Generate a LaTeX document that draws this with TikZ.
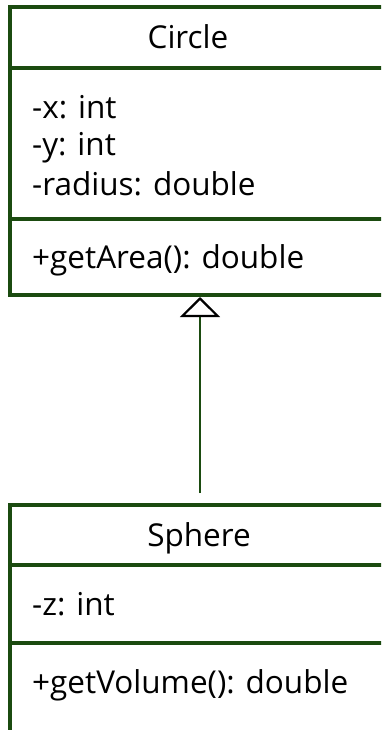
\documentclass[tikz,border=0pt]{standalone}
\usepackage{fontspec}
\setmainfont{Open Sans}
\usetikzlibrary{arrows.meta}
\definecolor{umlgreen}{RGB}{27,75,16}

\begin{document}
\begin{tikzpicture}[x=1pt, y=-1pt,
  classbox/.style={draw=umlgreen, line width=4pt, minimum width=380pt, minimum height=287.5pt, inner sep=0},
  sepline/.style={umlgreen, line width=4pt},
  member/.style={anchor=base west, inner sep=0, font=\fontsize{31.5}{38}\selectfont},
  classname/.style={anchor=base, inner sep=0, font=\fontsize{31.5}{38}\selectfont}]
\useasboundingbox (0,0) rectangle (381,730);
\clip (0,0) rectangle (381,730);
% the two class boxes
\node[classbox] (circle) at (200,151.25) {};
\node[classbox] (sphere) at (200,648.25) {};
\foreach \y in {68,219,565,643}
 \draw[sepline] (10,\y) -- (390,\y);
% Circle
\node[classname] (circlename) at (188,49) {Circle};
\node[member] (cx) at (32,119) {-x: int};
\node[member] (cy) at (32,156) {-y: int};
\node[member] (cradius) at (32,195) {-radius: double};
\node[member] (carea) at (32,268) {+getArea(): double};
% Sphere
\node[classname] (spherename) at (199,546) {Sphere};
\node[member] (sz) at (32,615) {-z: int};
\node[member] (svolume) at (32,693) {+getVolume(): double};
% inheritance
\draw[umlgreen, line width=2.4pt, shorten <=9.5pt,
 -{Triangle[width=40pt, length=20pt, color=black, fill=white, line width=2.2pt]}]
 (sphere.north) -- (circle.south);
\end{tikzpicture}
\end{document}
